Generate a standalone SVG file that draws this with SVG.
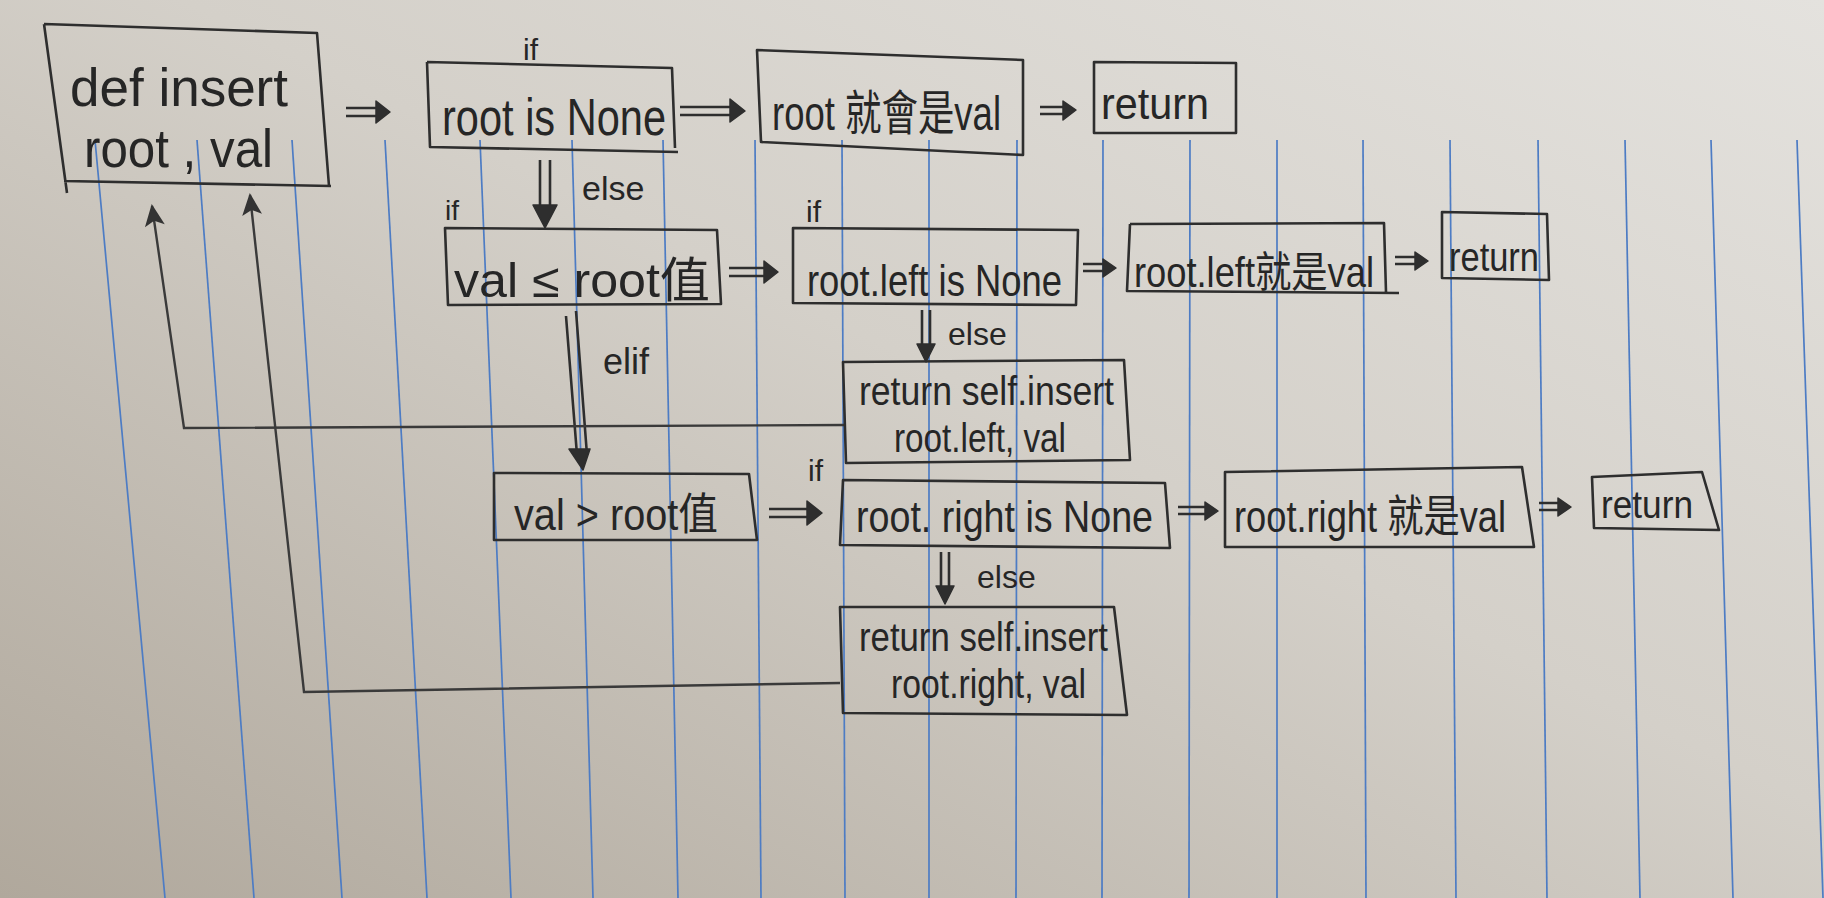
<svg xmlns="http://www.w3.org/2000/svg" width="1824" height="898" viewBox="0 0 1824 898">
<defs>
<linearGradient id="paper" x1="1" y1="0" x2="0" y2="1">
<stop offset="0" stop-color="#e4e2de"/>
<stop offset="0.45" stop-color="#d4d0c9"/>
<stop offset="1" stop-color="#b0a89c"/>
</linearGradient>
<marker id="up" viewBox="0 0 24 20" refX="22" refY="10" markerWidth="24" markerHeight="20" markerUnits="userSpaceOnUse" orient="auto">
<path d="M24 10 L2 0 L7 10 L2 20 Z" fill="#333"/>
</marker>
<style>
.paper-line{stroke:#4d7cc4;stroke-width:1.7;fill:none}
.box{fill:none;stroke:#2e2e2e;stroke-width:2.6;stroke-linejoin:round}
.t{font-family:"Liberation Sans","Noto Sans CJK TC",sans-serif;fill:#262626}
.shaft{stroke:#2e2e2e;stroke-width:2.6;fill:none}
.head{fill:#2e2e2e;stroke:#2e2e2e;stroke-width:1.5;stroke-linejoin:round}
.ret{stroke:#3a3a3a;stroke-width:2.4;fill:none}
</style>
</defs>
<rect x="0" y="0" width="1824" height="898" fill="url(#paper)"/>
<g id="paper-lines">
<line class="paper-line" x1="95" y1="140" x2="165" y2="898"/>
<line class="paper-line" x1="197" y1="140" x2="254" y2="898"/>
<line class="paper-line" x1="292" y1="140" x2="342" y2="898"/>
<line class="paper-line" x1="385" y1="140" x2="427" y2="898"/>
<line class="paper-line" x1="480" y1="140" x2="511" y2="898"/>
<line class="paper-line" x1="572" y1="140" x2="593" y2="898"/>
<line class="paper-line" x1="663" y1="140" x2="678" y2="898"/>
<line class="paper-line" x1="755" y1="140" x2="761" y2="898"/>
<line class="paper-line" x1="842" y1="140" x2="845" y2="898"/>
<line class="paper-line" x1="929" y1="140" x2="929" y2="898"/>
<line class="paper-line" x1="1017" y1="140" x2="1016" y2="898"/>
<line class="paper-line" x1="1103" y1="140" x2="1102" y2="898"/>
<line class="paper-line" x1="1190" y1="140" x2="1189" y2="898"/>
<line class="paper-line" x1="1277" y1="140" x2="1277" y2="898"/>
<line class="paper-line" x1="1363" y1="140" x2="1366" y2="898"/>
<line class="paper-line" x1="1450" y1="140" x2="1456" y2="898"/>
<line class="paper-line" x1="1538" y1="140" x2="1547" y2="898"/>
<line class="paper-line" x1="1625" y1="140" x2="1640" y2="898"/>
<line class="paper-line" x1="1711" y1="140" x2="1733" y2="898"/>
<line class="paper-line" x1="1797" y1="140" x2="1823" y2="898"/>
</g>
<g id="connectors">
<path class="shaft" d="M346 108 H378 M346 116 H378"/><path class="head" d="M376 101 L390 112 L376 123 Z"/>
<path class="shaft" d="M680 107 H732 M680 115 H732"/><path class="head" d="M730 99 L745 111 L730 122 Z"/>
<path class="shaft" d="M1040 107 H1064 M1040 114 H1064"/><path class="head" d="M1063 101 L1076 110 L1063 120 Z"/>
<path class="shaft" d="M729 268 H766 M729 276 H766"/><path class="head" d="M764 261 L778 272 L764 283 Z"/>
<path class="shaft" d="M1083 264 H1104 M1083 271 H1104"/><path class="head" d="M1103 259 L1116 268 L1103 277 Z"/>
<path class="shaft" d="M1395 257 H1416 M1395 264 H1416"/><path class="head" d="M1415 252 L1428 261 L1415 270 Z"/>
<path class="shaft" d="M769 509 H809 M769 517 H809"/><path class="head" d="M807 501 L822 513 L807 525 Z"/>
<path class="shaft" d="M1178 507 H1206 M1178 514 H1206"/><path class="head" d="M1205 502 L1218 511 L1205 520 Z"/>
<path class="shaft" d="M1539 503 H1559 M1539 510 H1559"/><path class="head" d="M1558 498 L1571 507 L1558 516 Z"/>
<path class="shaft" d="M540 160 V212 M550 160 V212"/><path class="head" d="M533 205 L545 228 L557 205 Z"/>
<path class="shaft" d="M922 310 V350 M930 310 V350"/><path class="head" d="M917 344 L926 362 L935 344 Z"/>
<path class="shaft" d="M941 552 V592 M949 552 V592"/><path class="head" d="M936 586 L945 604 L954 586 Z"/>
<path class="shaft" d="M566 316 L577 455 M576 311 L587 455"/><path class="head" d="M569 449 L583 470 L590 449 Z"/>
<polyline class="ret" points="846,425 184,428 152,206" marker-end="url(#up)"/>
<polyline class="ret" points="840,683 304,692 250,195" marker-end="url(#up)"/>
</g>
<g id="n-def">
<path class="box" d="M44 24 L317 33 L329 186 M44 24 L67 193 M64 181 L331 186"/>
<text class="t" x="70" y="106" font-size="54" textLength="218" lengthAdjust="spacingAndGlyphs">def  insert</text>
<text class="t" x="84" y="167" font-size="54" textLength="189" lengthAdjust="spacingAndGlyphs">root , val</text>
</g>
<g id="n-rootnone">
<text class="t" x="523" y="60" font-size="30">if</text>
<path class="box" d="M427 62 L672 68 L675 148 M427 62 L430 147 L678 152"/>
<text class="t" x="442" y="135" font-size="52" textLength="224" lengthAdjust="spacingAndGlyphs">root is None</text>
</g>
<g id="n-rootval">
<path class="box" d="M757 50 L1023 60 L1023 155 L761 142 Z"/>
<text class="t" x="772" y="130" font-size="48" textLength="229" lengthAdjust="spacingAndGlyphs">root 就會是val</text>
</g>
<g id="n-return1">
<path class="box" d="M1094 62 L1236 63 L1236 133 L1094 133 Z"/>
<text class="t" x="1101" y="119" font-size="44" textLength="108" lengthAdjust="spacingAndGlyphs">return</text>
</g>
<g id="n-le">
<text class="t" x="582" y="200" font-size="34">else</text>
<text class="t" x="445" y="220" font-size="28">if</text>
<path class="box" d="M445 228 L717 230 L721 304 L448 305 Z"/>
<text class="t" x="454" y="297" font-size="48" textLength="256" lengthAdjust="spacingAndGlyphs">val ≤ root值</text>
</g>
<g id="n-leftnone">
<text class="t" x="806" y="222" font-size="30">if</text>
<path class="box" d="M793 228 L1078 230 L1076 305 L793 303 Z"/>
<text class="t" x="807" y="296" font-size="44" textLength="255" lengthAdjust="spacingAndGlyphs">root.left is None</text>
</g>
<g id="n-leftval">
<path class="box" d="M1130 224 L1384 223 L1386 292 M1130 224 L1127 291 L1399 293"/>
<text class="t" x="1134" y="287" font-size="42" textLength="240" lengthAdjust="spacingAndGlyphs">root.left就是val</text>
</g>
<g id="n-return2">
<path class="box" d="M1442 212 L1547 214 L1549 280 L1442 278 Z"/>
<text class="t" x="1449" y="271" font-size="40" textLength="90" lengthAdjust="spacingAndGlyphs">return</text>
</g>
<g id="n-insertleft">
<text class="t" x="948" y="345" font-size="32">else</text>
<path class="box" d="M843 362 L1124 360 L1130 460 L846 463 Z"/>
<text class="t" x="859" y="405" font-size="40" textLength="255" lengthAdjust="spacingAndGlyphs">return self.insert</text>
<text class="t" x="894" y="452" font-size="40" textLength="172" lengthAdjust="spacingAndGlyphs">root.left, val</text>
</g>
<g id="n-gt">
<text class="t" x="603" y="374" font-size="36">elif</text>
<path class="box" d="M494 473 L749 474 L757 540 L494 540 Z"/>
<text class="t" x="514" y="530" font-size="44" textLength="204" lengthAdjust="spacingAndGlyphs">val &gt; root值</text>
</g>
<g id="n-rightnone">
<text class="t" x="808" y="481" font-size="30">if</text>
<path class="box" d="M843 480 L1165 483 L1170 548 L840 545 Z"/>
<text class="t" x="856" y="532" font-size="44" textLength="297" lengthAdjust="spacingAndGlyphs">root. right is None</text>
</g>
<g id="n-rightval">
<path class="box" d="M1225 472 L1522 467 L1534 547 L1225 547 Z"/>
<text class="t" x="1234" y="532" font-size="44" textLength="272" lengthAdjust="spacingAndGlyphs">root.right 就是val</text>
</g>
<g id="n-return3">
<path class="box" d="M1592 477 L1702 472 L1719 530 L1594 528 Z"/>
<text class="t" x="1601" y="518" font-size="38" textLength="92" lengthAdjust="spacingAndGlyphs">return</text>
</g>
<g id="n-insertright">
<text class="t" x="977" y="588" font-size="32">else</text>
<path class="box" d="M840 607 L1114 607 L1127 715 L843 713 Z"/>
<text class="t" x="859" y="651" font-size="40" textLength="249" lengthAdjust="spacingAndGlyphs">return self.insert</text>
<text class="t" x="891" y="698" font-size="40" textLength="195" lengthAdjust="spacingAndGlyphs">root.right, val</text>
</g>
</svg>
